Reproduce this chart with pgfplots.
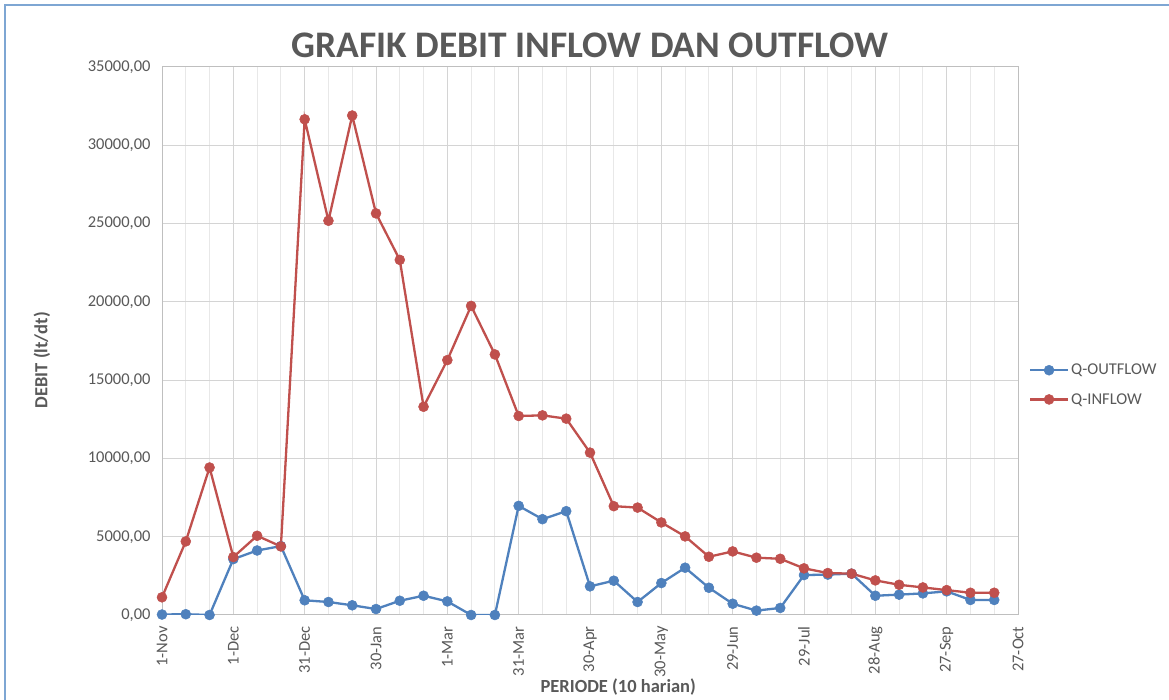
\documentclass[border=0pt]{standalone}
\usepackage{pgfplots}
\pgfplotsset{compat=1.18}
\usepackage{fontspec}
\setmainfont{Carlito}
\definecolor{txt}{HTML}{595959}
\definecolor{qout}{HTML}{4F81BD}
\definecolor{qin}{HTML}{C0504D}
\definecolor{frame}{HTML}{7EA6D3}

% day offset from 1 Nov, one value per 10-day period
\pgfplotstableread{
day outflow inflow
0    30     1130
10   50     4700
20   0      9420
30   3570   3700
40   4120   5060
50   4400   4380
60   940    31660
70   830    25180
80   620    31900
90   380    25650
100  910    22680
110  1230   13300
120  870    16280
130  0      19740
140  0      16640
150  6970   12710
160  6120   12750
170  6630   12540
180  1830   10370
190  2190   6950
200  830    6860
210  2040   5910
220  3020   5020
230  1740   3720
240  720    4060
250  280    3660
260  450    3590
270  2550   2980
280  2580   2680
290  2640   2640
300  1230   2210
310  1300   1930
320  1380   1760
330  1510   1590
340  960    1420
350  960    1420
}\debit

\begin{document}
\begin{tikzpicture}
\useasboundingbox (0,0) rectangle (1169pt,700pt);
\fill[white] (0,0) rectangle (1169pt,700pt);
\draw[frame, line width=1.2pt] (5pt,0) -- (5pt,695pt) -- (1169pt,695pt);
\node[text=txt, font=\fontsize{37.5}{44}\selectfont\bfseries] at (590pt,655pt) {GRAFIK DEBIT INFLOW DAN OUTFLOW};
\begin{axis}[
  at={(162pt,85pt)}, anchor=south west,
  width=856pt, height=548pt, scale only axis,
  xmin=0, xmax=360, ymin=0, ymax=35000,
  xtick={0,30,...,360},
  xticklabels={1-Nov,1-Dec,31-Dec,30-Jan,1-Mar,31-Mar,30-Apr,30-May,29-Jun,29-Jul,28-Aug,27-Sep,27-Oct},
  minor xtick={10,20,...,350},
  ytick={0,5000,...,35000},
  xmajorgrids, xminorgrids, ymajorgrids,
  major grid style={color=black!17, line width=1pt},
  minor grid style={color=black!9, line width=1pt},
  axis line style={color=black!25, line width=1pt},
  major tick length=0pt, minor tick length=0pt,
  x tick label style={rotate=90, anchor=east, font=\fontsize{16.5}{19}\selectfont, text=txt},
  y tick label style={font=\fontsize{16.5}{19}\selectfont, text=txt},
  xticklabel shift=8pt, yticklabel shift=8pt,
  /pgf/number format/.cd, fixed, fixed zerofill, precision=2, use comma, 1000 sep={}, assume math mode=true,
  /pgfplots/.cd,
  scaled y ticks=false,
  xlabel={PERIODE (10 harian)},
  ylabel={DEBIT (lt/dt)},
  label style={font=\fontsize{18.5}{22}\selectfont\bfseries, text=txt},
  xlabel style={at={(axis description cs:0.533,-0.131)}, anchor=center},
  ylabel style={at={(axis description cs:-0.1402,0.465)}, anchor=center},
  legend style={at={(axis description cs:1.009,0.42)}, anchor=west, draw=none, fill=none,
    font=\fontsize{16.5}{19}\selectfont, text=txt, row sep=13pt,
    /tikz/every even column/.append style={column sep=2pt}},
  legend cell align=left,
  legend image code/.code={\draw[mark repeat=2,mark phase=2] plot coordinates {(0pt,0pt) (19pt,0pt) (38pt,0pt)};},
  every axis plot/.append style={line width=2.3pt, mark=*, mark size=5pt},
]
\addplot[qout, mark options={fill=qout, draw=qout, line width=0.5pt}] table[x=day, y=outflow] {\debit};
\addlegendentry{Q-OUTFLOW}
\addplot[qin, mark options={fill=qin, draw=qin, line width=0.5pt}] table[x=day, y=inflow] {\debit};
\addlegendentry{Q-INFLOW}
\end{axis}
\end{tikzpicture}
\end{document}
